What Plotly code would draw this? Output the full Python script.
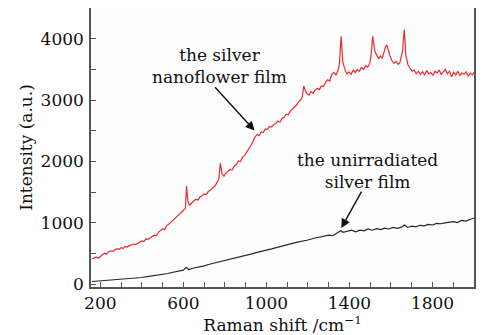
import plotly.graph_objects as go

# Silver nanoflower film (red)
red_x = [160, 170, 180, 190, 200, 210, 220, 230, 240, 250, 260, 270, 280, 290, 300, 310, 320, 330,
         340, 350, 360, 370, 380, 390, 400, 410, 420, 430, 440, 450, 460, 470, 480, 490, 500, 510,
         520, 530, 540, 550, 560, 570, 580, 590, 600, 610, 615, 622, 630, 640, 650, 660, 670, 680,
         690, 700, 710, 720, 730, 740, 750, 760, 770, 778, 786, 795, 805, 815, 825, 835, 845, 855,
         865, 875, 885, 895, 905, 915, 925, 935, 945, 955, 965, 975, 985, 995, 1005, 1015, 1025,
         1035, 1045, 1055, 1065, 1075, 1085, 1095, 1105, 1115, 1125, 1135, 1145, 1155, 1165, 1173,
         1180, 1188, 1195, 1205, 1215, 1225, 1235, 1245, 1255, 1265, 1275, 1285, 1295, 1305, 1315,
         1325, 1335, 1345, 1352, 1360, 1368, 1378, 1388, 1398, 1408, 1418, 1428, 1438, 1448, 1458,
         1468, 1478, 1488, 1498, 1505, 1512, 1522, 1530, 1540, 1550, 1558, 1565, 1572, 1580, 1588,
         1595, 1605, 1615, 1625, 1635, 1642, 1648, 1655, 1664, 1672, 1682, 1692, 1702, 1712, 1722,
         1732, 1742, 1752, 1762, 1772, 1782, 1792, 1802, 1812, 1822, 1832, 1842, 1852, 1862, 1872,
         1882, 1892, 1902, 1912, 1922, 1932, 1942, 1952, 1962, 1972, 1982, 1992, 2000]
red_y = [410, 430, 445, 425, 460, 480, 505, 490, 530, 545, 535, 560, 580, 570, 595, 585, 615, 605,
         630, 640, 655, 645, 670, 690, 705, 695, 740, 730, 760, 780, 800, 790, 850, 870, 900, 890,
         955, 980, 1010, 1040, 1080, 1100, 1140, 1160, 1200, 1235, 1600, 1340, 1290, 1320, 1350, 1385,
         1370, 1420, 1440, 1470, 1460, 1510, 1530, 1570, 1590, 1640, 1700, 1970, 1800, 1760, 1815,
         1840, 1870, 1860, 1920, 1950, 2010, 2000, 2070, 2100, 2150, 2190, 2260, 2320, 2400, 2440,
         2420, 2480, 2470, 2530, 2520, 2570, 2560, 2600, 2620, 2660, 2640, 2700, 2720, 2770, 2760,
         2820, 2850, 2890, 2920, 2970, 3000, 3060, 3230, 3150, 3110, 3080, 3140, 3110, 3170, 3190,
         3170, 3230, 3220, 3290, 3330, 3310, 3420, 3450, 3410, 3480, 3600, 4040, 3620, 3500, 3430,
         3460, 3420, 3490, 3450, 3500, 3470, 3530, 3500, 3560, 3540, 3600, 3750, 4040, 3800, 3740,
         3680, 3720, 3680, 3760, 3850, 3900, 3780, 3720, 3640, 3600, 3630, 3580, 3600, 3680, 3780,
         4150, 3720, 3570, 3520, 3470, 3490, 3430, 3470, 3420, 3460, 3410, 3480, 3430, 3450, 3400,
         3470, 3440, 3490, 3420, 3460, 3500, 3430, 3470, 3380, 3450, 3410, 3470, 3400, 3440, 3420,
         3460, 3390, 3440, 3410, 3450, 3420, 3400, 3440]

# Unirradiated silver film (black)
blk_x = [160, 180, 200, 225, 250, 275, 300, 325, 350, 375, 400, 425, 450, 475, 500, 525, 550, 575,
         600, 613, 625, 650, 675, 700, 725, 750, 775, 800, 825, 850, 875, 900, 925, 950, 975, 1000,
         1025, 1050, 1075, 1100, 1125, 1150, 1175, 1200, 1225, 1250, 1275, 1300, 1320, 1340, 1358,
         1370, 1390, 1410, 1430, 1450, 1470, 1490, 1510, 1530, 1550, 1570, 1590, 1610, 1630, 1650,
         1665, 1680, 1700, 1720, 1740, 1760, 1780, 1800, 1820, 1840, 1860, 1880, 1900, 1920, 1940,
         1960, 1980, 2000]
blk_y = [45, 50, 55, 62, 65, 72, 75, 88, 95, 102, 110, 125, 135, 148, 160, 175, 195, 210,
         230, 275, 240, 265, 280, 300, 325, 345, 360, 385, 410, 430, 445, 470, 490, 515, 530, 555,
         575, 600, 615, 640, 665, 685, 700, 720, 745, 765, 780, 800, 790, 830, 870, 845, 860, 880,
         855, 880, 870, 900, 880, 905, 890, 915, 900, 925, 910, 930, 965, 925, 945, 935, 960, 950,
         975, 965, 990, 985, 1000, 1010, 1020, 1005, 1040, 1030, 1050, 1080]

x_ticks = [200, 600, 1000, 1400, 1800]
y_ticks = [0, 1000, 2000, 3000, 4000]

FONT = "DejaVu Serif"
AX = "#555555"
TXT = "#111111"

fig = go.Figure()
fig.add_trace(go.Scatter(x=red_x, y=red_y, mode="lines",
                         line=dict(color="#ec2b2b", width=1.2), showlegend=False))
fig.add_trace(go.Scatter(x=blk_x, y=blk_y, mode="lines",
                         line=dict(color="#262626", width=1.2), showlegend=False))

axis_common = dict(showline=True, linecolor=AX, linewidth=1.5, mirror=True,
                   ticks="inside", ticklen=5, tickwidth=1.2, tickcolor=AX,
                   showgrid=False, zeroline=False, automargin=False,
                   tickfont=dict(family=FONT, size=17, color=TXT))

fig.update_xaxes(range=[155, 2000], tickvals=x_ticks, ticktext=[str(v) for v in x_ticks],
                 minor=dict(dtick=100, tick0=200, ticks="inside", ticklen=5, tickcolor=AX, tickwidth=1.2),
                 title=dict(text="Raman shift /cm<sup>−1</sup>", font=dict(family=FONT, size=17, color=TXT),
                            standoff=4),
                 ticklabelstandoff=0,
                 **axis_common)
fig.update_yaxes(range=[-45, 4500], tickvals=y_ticks, ticktext=[str(v) for v in y_ticks],
                 minor=dict(dtick=500, tick0=0, ticks="inside", ticklen=5, tickcolor=AX, tickwidth=1.2),
                 title=dict(text="Intensity (a.u.)", font=dict(family=FONT, size=17, color=TXT),
                            standoff=4),
                 ticklabelstandoff=2,
                 **axis_common)

ann_font = dict(family=FONT, size=17, color=TXT)
fig.add_annotation(x=775, y=3557, xref="x", yref="y", text="the silver<br>nanoflower film",
                   showarrow=False, font=ann_font, align="center")
fig.add_annotation(x=1486, y=1840, xref="x", yref="y", text="the unirradiated<br>silver film",
                   showarrow=False, font=ann_font, align="center")
fig.add_annotation(x=943, y=2504, ax=746, ay=3233, xref="x", yref="y", axref="x", ayref="y",
                   text="", showarrow=True, arrowhead=2, arrowsize=1.3, arrowwidth=1.4, arrowcolor=TXT)
fig.add_annotation(x=1361, y=916, ax=1462, ay=1532, xref="x", yref="y", axref="x", ayref="y",
                   text="", showarrow=True, arrowhead=2, arrowsize=1.3, arrowwidth=1.4, arrowcolor=TXT)

# The page body adds an 8 px offset, so the figure is sized to fit inside the 484x335 window.
fig.update_layout(width=476, height=327, margin=dict(l=83, r=10, t=0, b=48),
                  paper_bgcolor="white", plot_bgcolor="#fdfdfd",
                  font=dict(family=FONT, color=TXT))

fig.write_html("out.html")
